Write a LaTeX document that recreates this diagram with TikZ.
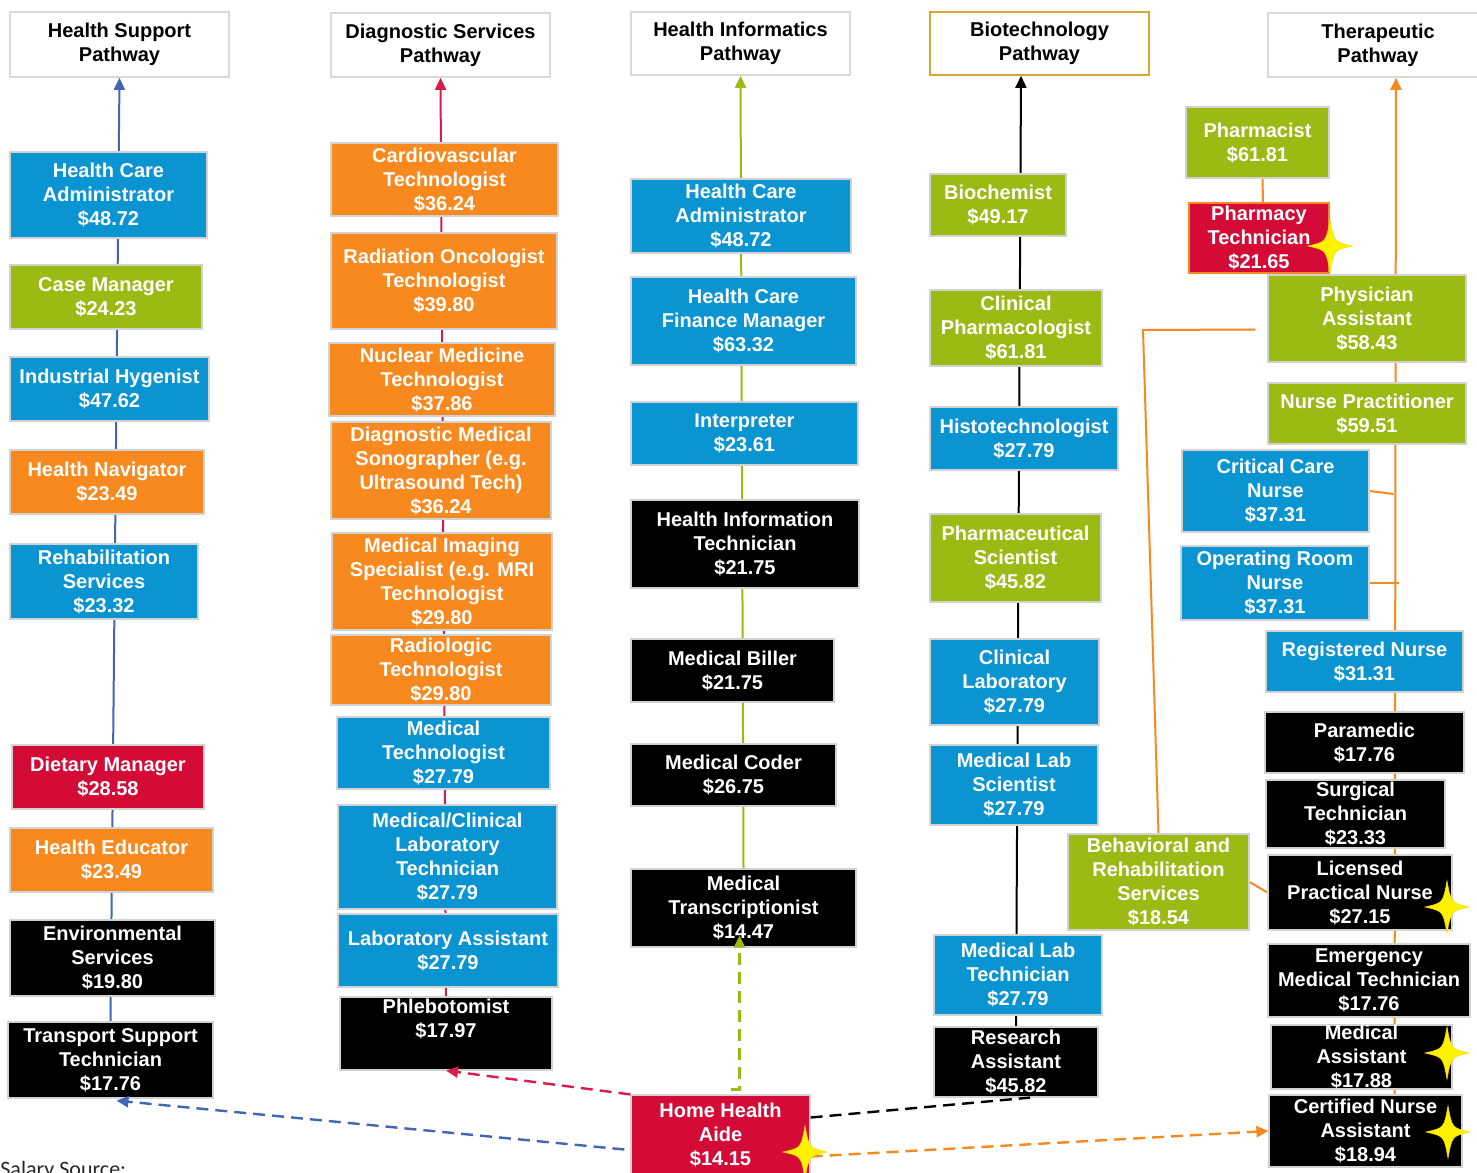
\documentclass[tikz,border=0pt]{standalone}
\usepackage{fontspec}
\setmainfont{Liberation Sans}
\newfontfamily\srcfont{Carlito}
\usetikzlibrary{arrows.meta,calc,backgrounds}
\definecolor{cb}{HTML}{0A94D2}
\definecolor{cg}{HTML}{9CBA14}
\definecolor{co}{HTML}{F7891F}
\definecolor{cr}{HTML}{D30B36}
\definecolor{gold}{HTML}{D9A630}
\definecolor{lblue}{HTML}{4166B5}
\definecolor{lred}{HTML}{D81C4B}
\newcommand{\JB}[7]{\node[#2, minimum width={(#5-#3)*0.5pt}, minimum height={(#6-#4)*0.5pt}] (#1) at ({(#3+#5)/2},{(#4+#6)/2}) {#7};}
\tikzset{
  jb/.style={rectangle, draw=gray!35, line width=0.6pt, text=white, font=\fontsize{10}{12}\selectfont\bfseries, align=center, inner sep=0pt},
  hd/.style={rectangle, draw=gray!30, line width=0.8pt, fill=white, text=black, font=\fontsize{10}{12}\selectfont\bfseries, align=center, inner sep=0pt},
  tip/.style={-{Triangle[length=6pt,width=5.5pt]}},
  sl/.style={line width=1pt},
  dl/.style={line width=1.2pt, dash pattern=on 6pt off 3.5pt},
  star4/.pic={\fill[yellow, draw=yellow!80!orange, line width=0.3pt] (0,-26) .. controls (4,-4) .. (22,0) .. controls (4,4) .. (0,26) .. controls (-4,4) .. (-22,0) .. controls (-4,-4) .. (0,-26) -- cycle;}
}
\begin{document}
\begin{tikzpicture}[x=0.5pt,y=-0.5pt]
\useasboundingbox (0,0) rectangle (1477,1172);
% column 1
\JB{h1}{hd}{10}{12}{229}{77}{Health Support\\Pathway}
\JB{c1a}{jb,fill=cb}{10}{152}{207}{238}{Health Care\\Administrator\\\$48.72}
\JB{c1b}{jb,fill=cg}{10}{265}{202}{329}{Case Manager\\\$24.23}
\JB{c1c}{jb,fill=cb}{10}{357}{209}{421}{Industrial Hygenist\\\$47.62}
\JB{c1d}{jb,fill=co}{10}{450}{204}{514}{Health Navigator\\\$23.49}
\JB{c1e}{jb,fill=cb}{10}{544}{198}{619}{Rehabilitation\\Services\\\$23.32}
\JB{c1f}{jb,fill=cr}{12}{745}{204}{809}{Dietary Manager\\\$28.58}
\JB{c1g}{jb,fill=co}{10}{828}{213}{892}{Health Educator\\\$23.49}
\JB{c1h}{jb,fill=black}{10}{920}{215}{996}{Environmental\\Services\\\$19.80}
\JB{c1i}{jb,fill=black}{8}{1022}{213}{1098}{Transport Support\\Technician\\\$17.76}
% column 2
\JB{h2}{hd}{331}{13}{550}{77}{Diagnostic Services\\Pathway}
\JB{c2a}{jb,fill=co}{331}{143}{558}{216}{Cardiovascular\\Technologist\\\$36.24}
\JB{c2b}{jb,fill=co}{331}{233}{557}{329}{Radiation Oncologist\\Technologist\\\$39.80}
\JB{c2c}{jb,fill=co}{329}{343}{555}{416}{Nuclear Medicine\\Technologist\\\$37.86}
\JB{c2d}{jb,fill=co}{331}{422}{551}{519}{Diagnostic Medical\\Sonographer (e.g.\\Ultrasound Tech)\\\$36.24}
\JB{c2e}{jb,fill=co}{332}{533}{552}{630}{Medical Imaging\\Specialist (e.g. MRI\\Technologist\\\$29.80}
\JB{c2f}{jb,fill=co}{331}{635}{551}{705}{Radiologic\\Technologist\\\$29.80}
\JB{c2g}{jb,fill=cb}{337}{717}{550}{789}{Medical\\Technologist\\\$27.79}
\JB{c2h}{jb,fill=cb}{338}{805}{557}{909}{Medical/Clinical\\Laboratory\\Technician\\\$27.79}
\JB{c2i}{jb,fill=cb}{338}{914}{558}{987}{Laboratory Assistant\\\$27.79}
\JB{c2j}{jb,fill=black}{340}{997}{552}{1070}{Phlebotomist\\\$17.97\\\strut}
% column 3
\JB{h3}{hd}{631}{12}{850}{75}{Health Informatics\\Pathway}
\JB{c3a}{jb,fill=cb}{631}{179}{851}{253}{Health Care\\Administrator\\\$48.72}
\JB{c3b}{jb,fill=cb}{631}{277}{856}{365}{Health Care\\Finance Manager\\\$63.32}
\JB{c3c}{jb,fill=cb}{631}{402}{858}{465}{Interpreter\\\$23.61}
\JB{c3d}{jb,fill=black}{631}{500}{859}{588}{Health Information\\Technician\\\$21.75}
\JB{c3e}{jb,fill=black}{631}{639}{834}{702}{Medical Biller\\\$21.75}
\JB{c3f}{jb,fill=black}{631}{744}{836}{806}{Medical Coder\\\$26.75}
\JB{c3g}{jb,fill=black}{631}{869}{856}{947}{Medical\\Transcriptionist\\\$14.47}
\JB{hha}{jb,fill=cr}{631}{1095}{810}{1174}{Home Health\\Aide\\\$14.15}
% column 4
\JB{h4}{hd,draw=gold}{930}{12}{1149}{75}{Biotechnology\\Pathway}
\JB{c4a}{jb,fill=cg}{930}{174}{1066}{236}{Biochemist\\\$49.17}
\JB{c4b}{jb,fill=cg}{930}{290}{1102}{366}{Clinical\\Pharmacologist\\\$61.81}
\JB{c4c}{jb,fill=cb}{930}{407}{1118}{470}{Histotechnologist\\\$27.79}
\JB{c4d}{jb,fill=cg}{930}{514}{1101}{602}{Pharmaceutical\\Scientist\\\$45.82}
\JB{c4e}{jb,fill=cb}{930}{639}{1099}{725}{Clinical\\Laboratory\\\$27.79}
\JB{c4f}{jb,fill=cb}{930}{745}{1098}{825}{Medical Lab\\Scientist\\\$27.79}
\JB{c4g}{jb,fill=cb}{934}{935}{1102}{1015}{Medical Lab\\Technician\\\$27.79}
\JB{c4h}{jb,fill=black}{934}{1027}{1098}{1097}{Research\\Assistant\\\$45.82}
% column 5
\JB{h5}{hd}{1268}{13}{1488}{77}{Therapeutic\\Pathway}
\JB{c5a}{jb,fill=cg}{1186}{107}{1329}{178}{Pharmacist\\\$61.81}
\JB{c5b}{jb,fill=cr,draw=co}{1189}{203}{1329}{273}{Pharmacy\\Technician\\\$21.65}
\JB{c5c}{jb,fill=cg}{1268}{275}{1466}{362}{Physician\\Assistant\\\$58.43}
\JB{c5d}{jb,fill=cg}{1268}{383}{1466}{444}{Nurse Practitioner\\\$59.51}
\JB{c5e}{jb,fill=cb}{1182}{450}{1369}{532}{Critical Care\\Nurse\\\$37.31}
\JB{c5f}{jb,fill=cb}{1181}{546}{1369}{620}{Operating Room\\Nurse\\\$37.31}
\JB{c5g}{jb,fill=cb}{1266}{631}{1463}{692}{Registered Nurse\\\$31.31}
\JB{c5h}{jb,fill=black}{1265}{712}{1464}{773}{Paramedic\\\$17.76}
\JB{c5i}{jb,fill=black}{1266}{780}{1445}{848}{Surgical\\Technician\\\$23.33}
\JB{c5j}{jb,fill=black}{1268}{855}{1452}{930}{Licensed\\Practical Nurse\\\$27.15}
\JB{c5k}{jb,fill=black}{1268}{944}{1470}{1017}{Emergency\\Medical Technician\\\$17.76}
\JB{c5l}{jb,fill=black}{1271}{1025}{1452}{1089}{Medical\\Assistant\\\$17.88}
\JB{c5m}{jb,fill=black}{1269}{1095}{1462}{1167}{Certified Nurse\\Assistant\\\$18.94}
\JB{c5n}{jb,fill=cg}{1068}{834}{1249}{930}{Behavioral and\\Rehabilitation\\Services\\\$18.54}
% source text
\node[anchor=base west, inner sep=0pt, font=\srcfont\fontsize{11}{13}\selectfont, text=black!85] (src) at (0,1176) {Salary Source:};
% solid pathway lines (behind the boxes)
\begin{scope}[on background layer]
\fill[white] (0,0) rectangle (1477,1172);
\draw[sl,lblue,tip] (c1i.north) -- (h1.south);
\draw[sl,lred,tip] (c2j.north) -- (h2.south);
\draw[sl,cg,tip] (c3g.north) -- (h3.south);
\draw[sl,black,tip] (c4h.north) -- ($(h4.south)+(-18.5,0)$);
\draw[sl,co,tip] ($(c5m.north)+(29,0)$) -- ($(h5.south)+(18,0)$);
\draw[sl,co] ($(c5a.south)+(5,0)$) -- ($(c5b.north)+(4,0)$);
\draw[sl,co] (c5e.east) -- ++(24,3);
\draw[sl,co] (c5f.east) -- ++(29,0);
\draw[sl,co] (c5n.north) -- (1143,330) -- ($(c5c.west)+(-12,11)$);
\draw[sl,co] (c5n.east) -- (c5j.west);
\end{scope}
% dashed connectors from Home Health Aide
\draw[dl,lblue,tip] ($(hha.west)+(-6,15)$) -- ($(c1i.south)+(6,2)$);
\draw[dl,lred,tip] (hha.north west) -- (c2j.south);
\draw[dl,cg,tip] ($(hha.north)+(10,-5)$) -| ($(c3g.south)+(-4,-12)$);
\draw[dl,black] ($(hha.east)+(0,-17)$) -- ($(c4h.south)+(14,0)$);
\draw[dl,co,tip] ($(hha.east)+(0,22)$) -- (c5m.west);
% stars
\pic at (1330,246) {star4};
\pic at (1447,907) {star4};
\pic at (1447,1053) {star4};
\pic at (1448,1132) {star4};
\pic at (805,1152) {star4};
\end{tikzpicture}
\end{document}
